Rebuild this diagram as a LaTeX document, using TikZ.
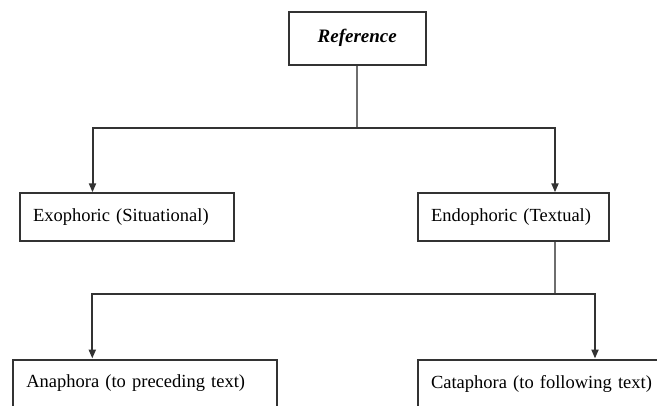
\documentclass[tikz,border=0pt]{standalone}
\usepackage{fontspec}
\setmainfont{Liberation Serif}
\usetikzlibrary{arrows.meta,calc}
\definecolor{lineDark}{HTML}{333333}
\definecolor{lineGray}{HTML}{6E6E6E}
\tikzset{
  box/.style={draw=lineDark, line width=2pt, rectangle, anchor=north west,
    inner xsep=13pt, inner ysep=0pt, align=left,
    font=\fontsize{18.5}{22}\selectfont, text=black},
  stem/.style={draw=lineGray, line width=2pt},
  link/.style={draw=lineDark, line width=2pt, -{Triangle[width=7pt,length=9pt]}},
}
\begin{document}
\begin{tikzpicture}[x=1pt,y=-1pt]
\useasboundingbox (0,0) rectangle (657,405);
\clip (0,0) rectangle (657,405);
\node[box, minimum width=136.5pt, minimum height=53.5pt, align=center, inner xsep=0pt,
      font=\fontsize{19}{22}\selectfont\bfseries\itshape] (ref) at (288,10.5) {Reference};
\node[box, minimum height=48pt, text width=187.5pt] (exo) at (19,192.3) {Exophoric (Situational)};
\node[box, minimum height=48pt, text width=165pt] (endo) at (417,192.3) {Endophoric (Textual)};
\node[box, minimum height=48pt, text width=237.7pt] (ana) at (12.3,358.5) {Anaphora (to preceding text)};
\node[box, minimum height=48pt, text width=260pt] (cata) at (417,358.5) {Cataphora (to following text)};
\coordinate (j1) at ($(ref.south)+(0,61.7)$);
\coordinate (j2) at ($(endo.south west)+(138,51.7)$);
\draw[stem] (ref.south) -- (j1);
\draw[link] (j1) -| ($(exo.north west)+(73.5,0)$);
\draw[link] (j1) -| ($(endo.north west)+(138,0)$);
\draw[stem] ($(endo.south west)+(138,0)$) -- (j2);
\draw[link] (j2) -| ($(ana.north west)+(80,0)$);
\draw[link] (j2) -| ($(cata.north west)+(178,0)$);
\end{tikzpicture}
\end{document}
